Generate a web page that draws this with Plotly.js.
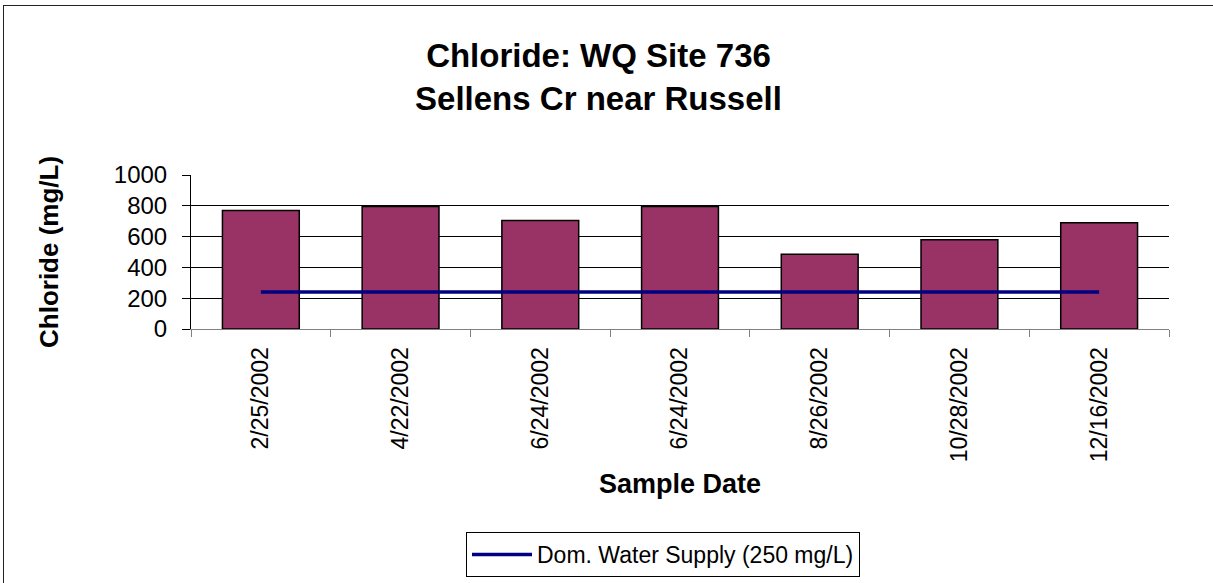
<!DOCTYPE html>
<html>
<head>
<meta charset="utf-8">
<script src="https://cdn.plot.ly/plotly-3.0.1.min.js"></script>
<style>
  html, body { margin: 0; padding: 0; background: #fff; }
  #chart { width: 1213px; height: 583px; position: relative; }
  #frame { position: absolute; left: 3px; top: 5px; width: 1300px; height: 700px;
           border-left: 1px solid #222; border-top: 1px solid #222; pointer-events: none; }
  #wrap { position: relative; width: 1213px; height: 583px; overflow: hidden; }
</style>
</head>
<body>
<div id="wrap">
  <div id="chart"></div>
  <div id="frame"></div>
</div>
<script>
const sampleDates = ['2/25/2002', '4/22/2002', '6/24/2002', '6/24/2002', '8/26/2002', '10/28/2002', '12/16/2002'];
const chlorideValues = [770, 795, 705, 795, 485, 580, 690];
const standardValues = [240, 240, 240, 240, 240, 240, 240];
const standardName = 'Dom. Water Supply (250 mg/L)';
const yTickValues = [0, 200, 400, 600, 800, 1000];
const yTitle = 'Chloride (mg/L)';

const positions = sampleDates.map((d, i) => i);

const font = 'Liberation Sans, Arial, sans-serif';

const traces = [
  {
    type: 'bar',
    x: positions,
    y: chlorideValues,
    marker: { color: '#993366', line: { color: '#000000', width: 1.5 } },
    showlegend: false,
    hoverinfo: 'y'
  },
  {
    type: 'scatter',
    mode: 'lines',
    x: positions,
    y: standardValues,
    name: standardName,
    line: { color: '#000080', width: 3.5 }
  }
];

const layout = {
  width: 1213,
  height: 583,
  margin: { l: 191, r: 44, t: 175, b: 254, pad: 0, autoexpand: false },
  paper_bgcolor: '#ffffff',
  plot_bgcolor: '#ffffff',
  bargap: 0.45,
  font: { family: font, color: '#000000' },
  title: {
    text: '<b>Chloride: WQ Site 736<br>Sellens Cr near Russell</b>',
    font: { family: font, size: 33, color: '#000000' },
    xref: 'container', x: 0.4934, xanchor: 'center',
    yref: 'container', y: 0.885, yanchor: 'middle'
  },
  xaxis: {
    type: 'linear',
    range: [-0.5, 6.5],
    tickmode: 'array',
    tickvals: positions,
    ticktext: sampleDates,
    tickangle: -90,
    ticks: '',
    tickfont: { family: font, size: 23, color: '#000000' },
    ticklabelstandoff: 8,
    showgrid: false,
    zeroline: false,
    showline: true,
    linecolor: '#808080',
    linewidth: 1,
    automargin: true,
    minor: { tickmode: 'linear', tick0: 0.5, dtick: 1, ticks: 'outside', ticklen: 7, tickcolor: '#808080', tickwidth: 1, showgrid: false },
    title: { text: '<b>Sample Date</b>', font: { family: font, size: 27, color: '#000000' }, standoff: 12 },
    fixedrange: true
  },
  yaxis: {
    range: [0, 1000],
    tickmode: 'array',
    tickvals: yTickValues,
    ticks: 'outside',
    ticklen: 8,
    tickcolor: '#000000',
    tickwidth: 1,
    tickfont: { family: font, size: 24, color: '#000000' },
    ticklabelstandoff: 10,
    showgrid: true,
    gridcolor: '#000000',
    gridwidth: 1,
    zeroline: false,
    showline: true,
    linecolor: '#000000',
    linewidth: 1,
    automargin: false,
    fixedrange: true
  },
  annotations: [
    {
      text: '<b>' + yTitle + '</b>',
      xref: 'paper', yref: 'paper',
      x: (49 - 191) / 978, y: 0.5,
      xanchor: 'center', yanchor: 'middle',
      textangle: -90,
      showarrow: false,
      font: { family: font, size: 26, color: '#000000' }
    }
  ],
  showlegend: true,
  legend: {
    xref: 'container', yref: 'container',
    x: 466 / 1213, xanchor: 'left',
    y: 1 - 532 / 583, yanchor: 'top',
    bgcolor: '#ffffff',
    bordercolor: '#000000',
    borderwidth: 1,
    font: { family: font, size: 23, color: '#000000' },
    itemwidth: 60
  }
};

Plotly.newPlot('chart', traces, layout, { displayModeBar: false, staticPlot: true });
</script>
</body>
</html>
